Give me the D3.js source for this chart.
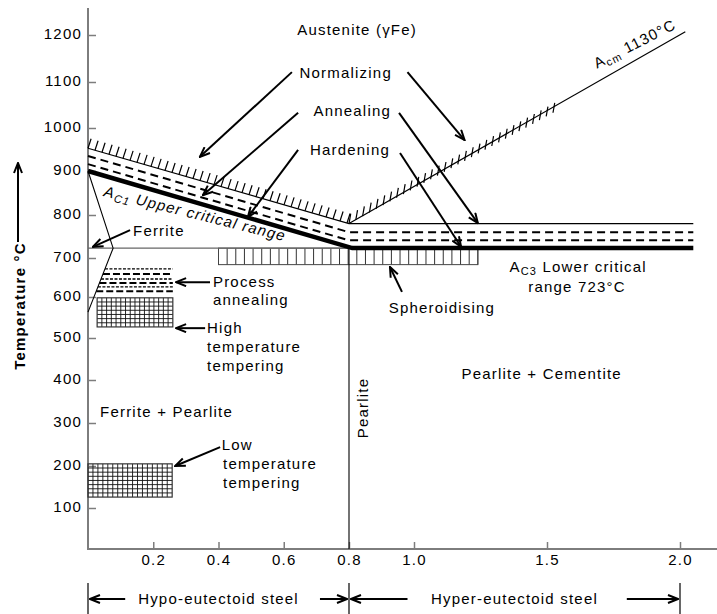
<!DOCTYPE html>
<html>
<head>
<meta charset="utf-8">
<script src="https://cdn.jsdelivr.net/npm/d3@7"></script>
<style>
  body { margin: 0; background: #fff; }
  svg { display: block; font-family: "Liberation Sans", Arial, sans-serif; }
  text { letter-spacing: 1.2px; fill: #000; }
</style>
</head>
<body>
<svg id="chart" width="717" height="614"></svg>
<script>
// ---- axes: carbon content (%) and temperature (°C) ----
const carbonTicks = [0.2, 0.4, 0.6, 0.8, 1.0, 1.5, 2.0];
const tempTicks = [100, 200, 300, 400, 500, 600, 700, 800, 900, 1000, 1100, 1200];
// the diagram's axes are drawn with uneven spacing, so both scales are piecewise
const carbonKnots = [0, 0.8, 1.0, 2.0];
const tempKnots = [0, 100, 200, 300, 400, 500, 600, 700, 800, 900, 1000, 1100, 1200];

// ---- phase boundaries, [carbon %, °C] ----
const normalizingLine = [[0, 953], [0.8, 780], [2.05, 780]];
const annealingUpper = [[0, 935], [0.8, 760], [2.05, 760]];
const annealingLower = [[0, 916], [0.8, 741], [2.05, 741]];
const criticalLine = [[0, 900], [0.81, 723], [2.05, 723]];
const acmLine = [[0.8, 780], [2.02, 1207]];
const ferriteLine = [[0, 900], [0.077, 723], [0, 563]];
const eutectoidLine = [[0, 723], [0.8, 723]];
const pearliteLine = [[0.8, 723], [0.8, 0]];
// hatched stretches: [from carbon, to carbon] on the normalizing line and on Acm
const normalizingHatch = [0, 0.8];
const acmHatch = [0.8, 1.53];

// ---- heat-treatment zones ----
const spheroidisingZone = [0.4, 1.24, 683, 723];      // c0, c1, t0, t1
const processRows = [672, 659, 646, 636, 626, 615];     // alternating fine / coarse dashes
const processRight = 0.26;
const highTemperingZone = [0.028, 0.26, 527, 598];
const lowTemperingZone = [0, 0.258, 126, 205];

// ---- pointer arrows: [tail carbon, tail °C, head carbon, head °C] ----
const pointerArrows = [
  [0.625, 1121, 0.343, 933],   // Normalizing
  [0.98, 1121, 1.19, 972],
  [0.644, 1033, 0.352, 845],   // Annealing
  [0.954, 1033, 1.24, 781],
  [0.644, 949, 0.49, 795],     // Hardening
  [0.957, 942, 1.177, 726],
  [0.129, 765, 0.015, 726],    // Ferrite
  [0.374, 638, 0.27, 638],     // Process annealing
  [0.359, 524, 0.27, 524],     // High temperature tempering
  [0.405, 244, 0.267, 200],    // Low temperature tempering
  [0.963, 613, 0.926, 677]     // Spheroidising
];

// ---- plain labels: [text, carbon, °C, anchor] ----
const labels = [
  ["Austenite (\u03B3Fe)", 0.825, 1200, "middle"],
  ["Normalizing", 0.79, 1109, "middle"],
  ["Annealing", 0.81, 1026, "middle"],
  ["Hardening", 0.803, 937, "middle"],
  ["Ferrite", 0.138, 751, "start"],
  ["Process", 0.383, 626, "start"],
  ["annealing", 0.383, 580, "start"],
  ["High", 0.365, 512, "start"],
  ["temperature", 0.365, 467, "start"],
  ["tempering", 0.365, 421, "start"],
  ["Ferrite + Pearlite", 0.037, 314, "start"],
  ["Low", 0.41, 237, "start"],
  ["temperature", 0.414, 193, "start"],
  ["tempering", 0.414, 148, "start"],
  ["Spheroidising", 1.105, 561, "middle"],
  ["range 723\u00B0C", 1.613, 613, "middle"],
  ["Pearlite + Cementite", 1.48, 402, "middle"]
];

// ---- steel classes under the axis: [from, to, label, tail of left arrow, tail of right arrow] ----
const steelClasses = [
  [0, 0.8, "Hypo-eutectoid steel", 0.114, 0.711],
  [0.8, 2.0, "Hyper-eutectoid steel", 0.98, 1.80]
];

const svg = d3.select("#chart");
const x = d3.scaleLinear().domain(carbonKnots).range([88, 349, 414, 680]);
const y = d3.scaleLinear().domain(tempKnots)
  .range([549, 508, 466, 423, 380, 338, 297, 258, 215, 171, 128, 82, 35]);
const line = d3.line().x(d => x(d[0])).y(d => y(d[1]));

// arrowhead
const defs = svg.append("defs");
defs.append("marker")
  .attr("id", "head").attr("viewBox", "0 0 12 10")
  .attr("markerUnits", "userSpaceOnUse")
  .attr("markerWidth", 12).attr("markerHeight", 10)
  .attr("refX", 11).attr("refY", 5).attr("orient", "auto")
  .append("path").attr("d", "M1,1 L11,5 L1,9")
  .attr("fill", "none").attr("stroke", "#000").attr("stroke-width", 2);

// ---- axes ----
const axisColor = "#7d7d7d";
const gy = svg.append("g").attr("transform", `translate(${x(0)},0)`)
  .call(d3.axisLeft(y).tickValues(tempTicks).tickFormat(d3.format("d"))
    .tickSize(-8).tickPadding(6).tickSizeOuter(0));
const gx = svg.append("g").attr("transform", `translate(0,${y(0)})`)
  .call(d3.axisBottom(x).tickValues(carbonTicks).tickFormat(d3.format(".1f"))
    .tickSize(-7).tickPadding(5).tickSizeOuter(0));
[gy, gx].forEach(g => {
  g.select(".domain").remove();
  g.selectAll(".tick line").attr("stroke", axisColor).attr("stroke-width", 1.5);
  g.selectAll(".tick text").attr("font-size", 15).attr("fill", "#000")
    .attr("font-family", "Liberation Sans, Arial, sans-serif");
});
gy.selectAll(".tick text").attr("dy", "0.22em");
svg.append("line").attr("x1", x(0)).attr("x2", x(0)).attr("y1", 8).attr("y2", y(0) + 1)
  .attr("stroke", axisColor).attr("stroke-width", 2);
svg.append("line").attr("x1", x(0)).attr("x2", 717).attr("y1", y(0)).attr("y2", y(0))
  .attr("stroke", axisColor).attr("stroke-width", 2);

// y-axis title with upward arrow
svg.append("text").attr("transform", "translate(25,306) rotate(-90)")
  .attr("text-anchor", "middle").attr("font-size", 15).attr("font-weight", "bold")
  .text("Temperature \u00B0C");
svg.append("line").attr("x1", 18).attr("x2", 18).attr("y1", 242).attr("y2", 163)
  .attr("stroke", "#000").attr("stroke-width", 2).attr("marker-end", "url(#head)");

// ---- heat-treatment zones ----
// spheroidising band: vertical ruling
{
  const [c0, c1, t0, t1] = spheroidisingZone;
  const x0 = x(c0), x1 = x(c1), yt = y(t1), yb = y(t0);
  const g = svg.append("g");
  const n = 30, step = (x1 - x0) / n;
  g.selectAll("line").data(d3.range(n + 1)).join("line")
    .attr("x1", i => x0 + i * step).attr("x2", i => x0 + i * step)
    .attr("y1", yt).attr("y2", yb).attr("stroke", "#333").attr("stroke-width", 1);
  g.append("rect").attr("x", x0).attr("y", yt).attr("width", x1 - x0).attr("height", yb - yt)
    .attr("fill", "none").attr("stroke", "#444").attr("stroke-width", 1);
}

// cross-ruled tempering zones
function gridZone(zone, cols, rows) {
  const [c0, c1, t0, t1] = zone;
  const x0 = x(c0), x1 = x(c1), yt = y(t1), yb = y(t0);
  const g = svg.append("g");
  const sx = (x1 - x0) / cols, sy = (yb - yt) / rows;
  g.selectAll("line.v").data(d3.range(1, cols)).join("line").attr("class", "v")
    .attr("x1", i => x0 + i * sx).attr("x2", i => x0 + i * sx)
    .attr("y1", yt).attr("y2", yb).attr("stroke", "#111").attr("stroke-width", 0.9);
  g.selectAll("line.h").data(d3.range(1, rows)).join("line").attr("class", "h")
    .attr("x1", x0).attr("x2", x1)
    .attr("y1", i => yt + i * sy).attr("y2", i => yt + i * sy)
    .attr("stroke", "#111").attr("stroke-width", 0.9);
  g.append("rect").attr("x", x0).attr("y", yt).attr("width", x1 - x0).attr("height", yb - yt)
    .attr("fill", "none").attr("stroke", "#333").attr("stroke-width", 1.2);
}
gridZone(highTemperingZone, 16, 7);
gridZone(lowTemperingZone, 17, 8);

// process annealing: dashed rows starting at the ferrite boundary
{
  const p1 = [x(ferriteLine[1][0]), y(ferriteLine[1][1])];
  const p2 = [x(ferriteLine[2][0]), y(ferriteLine[2][1])];
  const leftAt = py => p1[0] + (py - p1[1]) * (p2[0] - p1[0]) / (p2[1] - p1[1]);
  svg.append("g").selectAll("line").data(processRows).join("line")
    .attr("x1", t => leftAt(y(t))).attr("x2", x(processRight))
    .attr("y1", t => y(t)).attr("y2", t => y(t))
    .attr("stroke", "#000")
    .attr("stroke-width", (t, i) => i % 2 ? 2 : 1.4)
    .attr("stroke-dasharray", (t, i) => i % 2 ? "7,3" : "3,1.5");
}

// ---- phase boundaries ----
svg.append("path").attr("d", line(eutectoidLine)).attr("fill", "none")
  .attr("stroke", "#666").attr("stroke-width", 1.3);
svg.append("path").attr("d", line(pearliteLine)).attr("fill", "none")
  .attr("stroke", "#000").attr("stroke-width", 1.1);
svg.append("path").attr("d", line(ferriteLine)).attr("fill", "none")
  .attr("stroke", "#000").attr("stroke-width", 1.1);
svg.append("path").attr("d", line(normalizingLine)).attr("fill", "none")
  .attr("stroke", "#000").attr("stroke-width", 1.2);
svg.append("path").attr("d", line(acmLine)).attr("fill", "none")
  .attr("stroke", "#000").attr("stroke-width", 1.2);
[annealingUpper, annealingLower].forEach(l =>
  svg.append("path").attr("d", line(l)).attr("fill", "none")
    .attr("stroke", "#000").attr("stroke-width", 2).attr("stroke-dasharray", "8,5"));
svg.append("path").attr("d", line(criticalLine)).attr("fill", "none")
  .attr("stroke", "#000").attr("stroke-width", 4.5);

// hatching above a straight segment between two carbon values;
// strokes stand upright with a slight lean to the right
function hatch(seg, span, stepX, len, lean) {
  const a = seg[0], b = seg[1];
  const at = c => [x(c), y(a[1] + (b[1] - a[1]) * (c - a[0]) / (b[0] - a[0]))];
  const s = at(span[0]), e = at(span[1]);
  const n = Math.floor((e[0] - s[0]) / stepX);
  const slope = (e[1] - s[1]) / (e[0] - s[0]);
  const hx = Math.sin(lean * Math.PI / 180) * len, hy = -Math.cos(lean * Math.PI / 180) * len;
  svg.append("g").selectAll("line").data(d3.range(n + 1)).join("line")
    .attr("x1", i => s[0] + i * stepX).attr("y1", i => s[1] + slope * i * stepX)
    .attr("x2", i => s[0] + i * stepX + hx).attr("y2", i => s[1] + slope * i * stepX + hy)
    .attr("stroke", "#000").attr("stroke-width", 1.2);
}
hatch([normalizingLine[0], normalizingLine[1]], normalizingHatch, 7, 10, 18);
hatch(acmLine, acmHatch, 6.8, 10, 10);

// ---- arrows ----
svg.append("g").selectAll("line").data(pointerArrows).join("line")
  .attr("x1", d => x(d[0])).attr("y1", d => y(d[1]))
  .attr("x2", d => x(d[2])).attr("y2", d => y(d[3]))
  .attr("stroke", "#000").attr("stroke-width", 2).attr("marker-end", "url(#head)");

// ---- labels ----
svg.append("g").selectAll("text").data(labels).join("text")
  .attr("x", d => x(d[1])).attr("y", d => y(d[2]))
  .attr("text-anchor", d => d[3]).attr("font-size", 15).text(d => d[0]);

svg.append("text").attr("transform", `translate(${x(0.8) + 19},${y(335)}) rotate(-90)`)
  .attr("text-anchor", "middle").attr("font-size", 15).text("Pearlite");

// subscripted labels
function subLabel(g, main, sub, rest, size, subSize) {
  g.append("tspan").text(main);
  g.append("tspan").attr("font-size", subSize).attr("dy", 3).text(sub);
  g.append("tspan").attr("font-size", size).attr("dy", -3).text(rest);
}
{
  const t = svg.append("text").attr("x", x(1.617)).attr("y", y(664))
    .attr("text-anchor", "middle").attr("font-size", 15);
  subLabel(t, "A", "C3", " Lower critical", 15, 11);
}
{
  const p0 = [x(criticalLine[0][0]), y(criticalLine[0][1])];
  const p1 = [x(criticalLine[1][0]), y(criticalLine[1][1])];
  const ang = Math.atan2(p1[1] - p0[1], p1[0] - p0[0]) * 180 / Math.PI - 2.3;
  const t = svg.append("text")
    .attr("transform", `translate(${x(0.046)},${y(843)}) rotate(${ang})`)
    .attr("font-size", 15).attr("font-style", "italic");
  subLabel(t, "A", "C1", " Upper critical range", 15, 11);
}
{
  const t = svg.append("text")
    .attr("transform", `translate(${x(1.688)},${y(1128)}) rotate(-27)`)
    .attr("font-size", 15);
  subLabel(t, "A", "cm", " 1130\u00B0C", 15, 11);
}

// ---- steel classes with span arrows ----
const yb = 599;
steelClasses.forEach(([c0, c1, name, tl, tr]) => {
  svg.append("text").attr("x", (x(c0) + x(c1)) / 2).attr("y", yb + 5)
    .attr("text-anchor", "middle").attr("font-size", 15).text(name);
  svg.append("line").attr("x1", x(tl)).attr("x2", x(c0) + 2).attr("y1", yb).attr("y2", yb)
    .attr("stroke", "#000").attr("stroke-width", 2).attr("marker-end", "url(#head)");
  svg.append("line").attr("x1", x(tr)).attr("x2", x(c1) - 2).attr("y1", yb).attr("y2", yb)
    .attr("stroke", "#000").attr("stroke-width", 2).attr("marker-end", "url(#head)");
});
svg.append("g").selectAll("line").data([0, 0.8, 2.0]).join("line")
  .attr("x1", d => x(d)).attr("x2", d => x(d)).attr("y1", 583).attr("y2", 614)
  .attr("stroke", "#000").attr("stroke-width", 1.2);
</script>
</body>
</html>
